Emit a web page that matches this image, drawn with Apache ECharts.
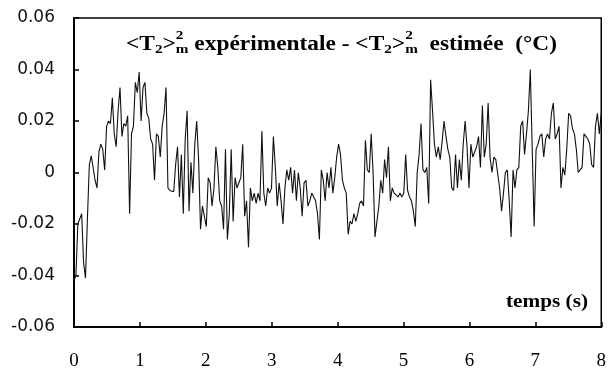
<!DOCTYPE html>
<html>
<head>
<meta charset="utf-8">
<script src="https://cdn.jsdelivr.net/npm/echarts@6/dist/echarts.min.js"></script>
<style>
html,body{margin:0;padding:0;background:#fff;}
#chart{width:609px;height:374px;}
</style>
</head>
<body>
<div id="chart"></div>
<script>
// Difference <T2>^2_m experimental - estimated (°C), sampled uniformly over 0..8 s
const diffValues = [
 -0.042,-0.040,-0.020,-0.020,-0.016,-0.035,-0.041,-0.018,0.003,0.0065,
 0.007,-0.003,-0.006,0.008,0.011,0.009,0.001,0.018,0.020,0.019,
 0.029,0.015,0.010,0.024,0.033,0.014,0.019,0.018,0.022,-0.016,
 0.015,0.018,0.035,0.031,0.039,0.020,0.033,0.035,0.023,0.021,
 0.013,0.011,-0.003,0.015,0.014,0.006,0.018,0.023,0.033,-0.006,
 -0.007,-0.007,-0.0075,0.003,0.010,-0.0095,0.007,-0.016,0.013,0.024,
 -0.015,0.004,-0.008,0.011,0.020,0.005,-0.022,-0.013,-0.017,-0.021,
 -0.002,-0.004,-0.013,-0.006,0.010,0.002,-0.011,-0.013,-0.022,0.009,
 -0.026,-0.016,0.009,-0.019,-0.002,-0.006,-0.004,-0.002,0.011,-0.017,
 -0.011,-0.029,-0.006,-0.011,-0.008,-0.012,-0.008,-0.011,0.016,-0.008,
 -0.013,-0.006,-0.008,-0.006,0.014,0.002,-0.013,-0.004,-0.011,-0.020,
 -0.006,0.001,-0.003,0.002,-0.008,0.001,-0.011,0.000,-0.006,-0.017,
 -0.004,-0.003,-0.013,-0.011,-0.008,-0.0095,-0.011,-0.016,-0.026,0.001,
 -0.003,-0.011,0.000,-0.006,0.002,-0.008,-0.002,0.006,0.011,0.007,
 -0.003,-0.006,-0.008,-0.024,-0.019,-0.020,-0.016,-0.019,-0.016,-0.012,
 -0.011,-0.013,0.0125,0.001,0.000,0.015,0.000,-0.025,-0.019,-0.013,
 -0.003,-0.008,0.005,-0.002,0.010,-0.011,-0.006,-0.008,-0.008,-0.0095,
 -0.008,-0.0095,-0.008,0.007,-0.007,-0.0095,-0.011,-0.015,-0.021,0.000,
 0.007,0.019,0.001,0.000,0.002,-0.012,0.036,0.024,0.011,0.006,
 0.010,0.005,0.012,0.020,0.014,0.009,0.006,-0.006,-0.007,0.007,
 -0.006,0.005,-0.003,0.011,0.020,0.010,-0.006,0.011,0.006,0.006,
 0.010,0.014,0.002,0.026,0.006,0.011,0.027,0.006,0.000,0.006,
 0.005,0.005,-0.006,-0.015,-0.008,0.000,0.001,-0.011,-0.025,0.001,
 -0.006,0.001,0.002,0.018,0.020,0.007,0.015,0.024,0.040,0.009,
 -0.021,0.009,0.011,0.014,0.015,0.006,0.013,0.015,0.013,0.023,
 0.027,0.013,0.015,0.018,-0.006,0.002,-0.001,0.009,0.023,0.022,
 0.017,0.015,0.009,0.000,0.000,0.002,0.015,0.014,0.013,0.011,
 0.003,0.002,0.018,0.023,0.015,0.023
];
const timeStart = 0;
const timeEnd = 8;
const xTicks = [0,1,2,3,4,5,6,7,8];
const yTicks = [-0.06,-0.04,-0.02,0,0.02,0.04,0.06];
const xLabel = 'temps (s)';

const step = (timeEnd - timeStart) / (diffValues.length - 1);
const seriesData = diffValues.map((v, i) => [timeStart + i * step, v]);

// ---- title pieces laid out with measured widths ----
const ctx = document.createElement('canvas').getContext('2d');
const BIG = 'bold 20px "Liberation Serif"';
const SMALL = 'bold 13px "Liberation Serif"';
function w(text, font){ ctx.font = font; return ctx.measureText(text).width; }
const pieces = [
  {parts:[{t:'<T', f:BIG, dy:0}]},
  {parts:[{t:'2', f:SMALL, dy:5}]},
  {parts:[{t:'>', f:BIG, dy:0}]},
  {parts:[{t:'2', f:SMALL, dy:-9},{t:'m', f:SMALL, dy:5}]},
  {parts:[{t:' expérimentale - <T', f:BIG, dy:0}]},
  {parts:[{t:'2', f:SMALL, dy:5}]},
  {parts:[{t:'>', f:BIG, dy:0}]},
  {parts:[{t:'2', f:SMALL, dy:-9},{t:'m', f:SMALL, dy:5}]},
  {parts:[{t:'  estimée  (°C)', f:BIG, dy:0}]}
];
let total = 0;
pieces.forEach(p => { p.w = Math.max(...p.parts.map(q => w(q.t, q.f))); total += p.w; });
const titleLeft = 126, titleRight = 557, titleY = 45;
const sx = (titleRight - titleLeft) / total;
const graphics = [];
let cx = titleLeft;
pieces.forEach(p => {
  p.parts.forEach(q => {
    graphics.push({type:'text', x: cx, y: titleY + q.dy, scaleX: sx, silent:true,
      style:{text:q.t, font:q.f, fill:'#000', textAlign:'left', textVerticalAlign:'middle', align:'left', verticalAlign:'middle'}});
  });
  cx += p.w * sx;
});
const tFont = 'bold 19px "Liberation Serif"';
graphics.push({type:'text', x: 588, y: 302, scaleX: 82 / w(xLabel, tFont), silent:true,
  style:{text:xLabel, font:tFont, fill:'#000', textAlign:'right', textVerticalAlign:'middle', align:'right', verticalAlign:'middle'}});

const chart = echarts.init(document.getElementById('chart'), null, {renderer:'canvas'});
chart.setOption({
  animation:false,
  backgroundColor:'#fff',
  grid:{left:74, right:4, top:18, bottom:47, show:true, borderColor:'#000', borderWidth:1.5, backgroundColor:'transparent'},
  xAxis:{
    type:'value', min:xTicks[0], max:xTicks[xTicks.length-1], interval:1,
    axisLine:{show:true, onZero:false, lineStyle:{color:'#000', width:2}},
    axisTick:{show:true, inside:true, length:5, lineStyle:{color:'#000', width:1.5}},
    axisLabel:{margin:25, color:'#000', fontFamily:'Liberation Serif', fontSize:19,
      formatter: v => xTicks.includes(v) ? String(v) : ''},
    splitLine:{show:false}
  },
  yAxis:{
    type:'value', min:yTicks[0], max:yTicks[yTicks.length-1], interval:0.02,
    axisLine:{show:true, onZero:false, lineStyle:{color:'#000', width:2}},
    axisTick:{show:true, inside:true, length:5, lineStyle:{color:'#000', width:1.5}},
    axisLabel:{margin:19, color:'#111', fontFamily:'DejaVu Sans', fontSize:17,
      formatter: v => { const r = Math.round(v*100)/100; return r === 0 ? '0' : r.toFixed(2); }},
    splitLine:{show:false}
  },
  series:[{
    type:'line', data:seriesData, showSymbol:false, symbol:'none',
    lineStyle:{color:'#111', width:1.1}, clip:true
  }],
  graphic: graphics
});
</script>
</body>
</html>
